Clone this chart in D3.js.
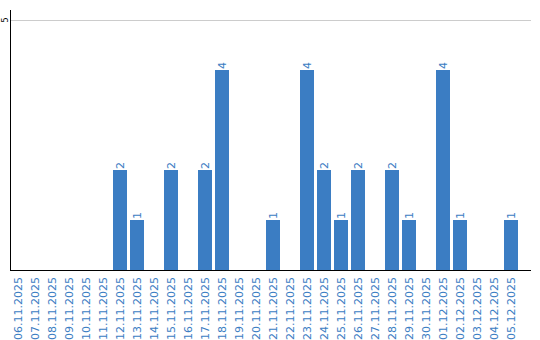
<!DOCTYPE html>
<html lang="en">
<head>
  <meta charset="UTF-8">
  <title>Daily counts</title>
  <style>
    body {
      margin: 0;
      padding: 0;
      background: #fff;
    }
    svg text {
      font-family: 'DejaVu Sans', sans-serif;
      font-size: 11px;
    }
  </style>
</head>
<body>

<script src="https://d3js.org/d3.v7.min.js"></script>

<script>
  // Dates shown on the x axis
  const dates = [
    '06.11.2025', '07.11.2025', '08.11.2025', '09.11.2025', '10.11.2025',
    '11.11.2025', '12.11.2025', '13.11.2025', '14.11.2025', '15.11.2025',
    '16.11.2025', '17.11.2025', '18.11.2025', '19.11.2025', '20.11.2025',
    '21.11.2025', '22.11.2025', '23.11.2025', '24.11.2025', '25.11.2025',
    '26.11.2025', '27.11.2025', '28.11.2025', '29.11.2025', '30.11.2025',
    '01.12.2025', '02.12.2025', '03.12.2025', '04.12.2025', '05.12.2025'
  ];

  // Count for each date
  const counts = [
    0, 0, 0, 0, 0,
    0, 2, 1, 0, 2,
    0, 2, 4, 0, 0,
    1, 0, 4, 2, 1,
    2, 0, 2, 1, 0,
    4, 1, 0, 0, 1
  ];

  // y tick values
  const yTicks = [5];

  const color = '#3b7dc3';

  const svg = d3.select('body').append('svg')
    .attr('width', 540)
    .attr('height', 340);

  const x = d3.scaleBand()
    .domain(dates)
    .range([11, 521])
    .paddingInner(3 / 17)
    .paddingOuter(3 / 34)
    .align(0);

  const y = d3.scaleLinear()
    .domain([0, 5.2])
    .range([270, 10]);

  // gridlines
  svg.selectAll('line.grid')
    .data(yTicks)
    .enter().append('line')
    .attr('class', 'grid')
    .attr('x1', 11)
    .attr('x2', 531)
    .attr('y1', d => Math.round(y(d)) + 0.5)
    .attr('y2', d => Math.round(y(d)) + 0.5)
    .attr('stroke', '#cccccc')
    .attr('stroke-width', 1);

  // y tick labels
  svg.selectAll('text.ytick')
    .data(yTicks)
    .enter().append('text')
    .attr('class', 'ytick')
    .attr('transform', d => `translate(5,${y(d)}) rotate(-90)`)
    .attr('text-anchor', 'middle')
    .attr('dy', '0.35em')
    .attr('fill', '#000')
    .style('font-size', '8px')
    .text(d => d);

  // bars
  const data = dates.map((d, i) => ({ date: d, value: counts[i] }));

  svg.selectAll('rect.bar')
    .data(data.filter(d => d.value > 0))
    .enter().append('rect')
    .attr('class', 'bar')
    .attr('x', d => x(d.date))
    .attr('y', d => y(d.value))
    .attr('width', x.bandwidth())
    .attr('height', d => y(0) - y(d.value))
    .attr('fill', color);

  // value labels
  svg.selectAll('text.value')
    .data(data.filter(d => d.value > 0))
    .enter().append('text')
    .attr('class', 'value')
    .attr('transform', d => `translate(${x(d.date) + x.bandwidth() / 2},${y(d.value) - 1}) rotate(-90)`)
    .attr('dy', '0.35em')
    .attr('fill', color)
    .text(d => d.value);

  // axes lines
  svg.append('line')
    .attr('x1', 10.5).attr('x2', 10.5)
    .attr('y1', 10).attr('y2', 271)
    .attr('stroke', '#000');

  svg.append('line')
    .attr('x1', 10).attr('x2', 531)
    .attr('y1', 270.5).attr('y2', 270.5)
    .attr('stroke', '#000');

  // x labels
  svg.selectAll('text.xlabel')
    .data(dates)
    .enter().append('text')
    .attr('class', 'xlabel')
    .attr('transform', d => `translate(${x(d) + x.bandwidth() / 2},277) rotate(-90)`)
    .attr('text-anchor', 'end')
    .attr('dy', '0.35em')
    .attr('fill', color)
    .text(d => d);
</script>

</body>
</html>
